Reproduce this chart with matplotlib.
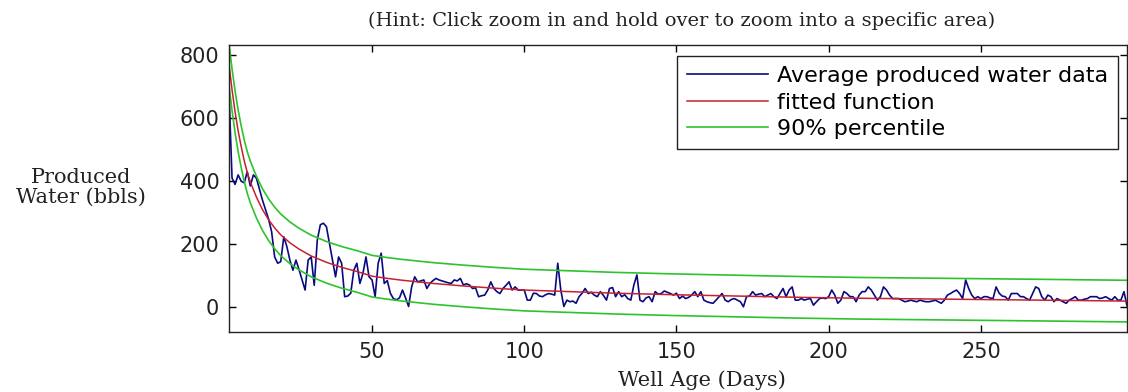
import numpy as np
import matplotlib
matplotlib.use('Agg')
from matplotlib import pyplot as plt

# daily averaged produced water, days 3..298 (bbls)
FIRST_DAY = 3
water = [
    680, 410, 390, 420, 400, 395, 430,
    385, 420, 410, 375, 340, 310, 280, 240, 160, 140,
    145, 224, 193, 150, 118, 150, 120, 87, 55, 150,
    160, 70, 213, 262, 267, 256, 203, 150, 97, 160,
    140, 34, 36, 45, 118, 140, 76, 108, 160, 97,
    87, 34, 140, 172, 76, 85, 45, 28, 24, 30,
    55, 30, 3, 65, 97, 81, 84, 87, 60, 76,
    85, 92, 87, 84, 81, 78, 76, 87, 84, 92,
    71, 75, 71, 60, 62, 34, 37, 39, 55, 81,
    60, 50, 44, 60, 70, 81, 55, 65, 55, 55,
    55, 23, 23, 45, 44, 36, 34, 40, 44, 42,
    39, 140, 55, 3, 23, 18, 20, 13, 34, 45,
    60, 44, 48, 39, 34, 50, 38, 23, 60, 63,
    34, 50, 34, 40, 28, 23, 71, 103, 23, 18,
    30, 34, 18, 50, 42, 44, 52, 48, 44, 39,
    45, 28, 36, 28, 32, 39, 50, 34, 50, 23,
    18, 15, 13, 23, 34, 44, 23, 18, 25, 28,
    23, 18, 2, 34, 36, 50, 39, 42, 44, 34,
    39, 44, 34, 28, 44, 60, 34, 55, 65, 23,
    23, 28, 23, 26, 28, 7, 18, 28, 30, 28,
    34, 55, 39, 13, 23, 50, 44, 34, 34, 18,
    39, 50, 50, 65, 55, 39, 23, 34, 65, 55,
    39, 28, 28, 28, 23, 18, 20, 23, 20, 18,
    23, 20, 18, 18, 20, 23, 18, 13, 23, 39,
    44, 50, 55, 44, 28, 87, 60, 39, 28, 34,
    28, 34, 34, 30, 28, 65, 45, 36, 34, 23,
    44, 44, 44, 34, 34, 28, 23, 44, 65, 60,
    34, 23, 39, 34, 18, 28, 23, 18, 13, 23,
    28, 34, 23, 23, 26, 28, 34, 34, 34, 28,
    30, 34, 28, 23, 34, 23, 23, 50, 5,
]

# fitted decline curve and its 90% band
fit_days = [3, 4, 5, 6, 7, 8, 9, 10, 12, 14, 16, 18, 20, 23, 26, 30, 35, 40,
            45, 50, 55, 60, 70, 80, 90, 100, 115, 130, 150, 170, 190, 210,
            230, 250, 270, 298]
fit_vals = [770, 690, 620, 560, 510, 465, 428, 398, 350, 310, 278, 252, 230,
            205, 185, 163, 143, 127, 114, 99, 92, 86, 76, 68, 61, 55, 50, 45,
            40, 36, 32, 29, 27, 25, 23, 20]
upper_vals = [836, 756, 686, 626, 576, 531, 494, 464, 416, 376, 344, 318, 296,
              271, 251, 229, 209, 193, 180, 165, 158, 152, 142, 134, 127, 121,
              116, 111, 106, 102, 98, 95, 93, 91, 89, 86]
lower_vals = [704, 624, 554, 494, 444, 399, 362, 332, 284, 244, 212, 186, 164,
              139, 119, 97, 77, 61, 48, 33, 26, 20, 10, 2, -5, -11, -16, -21,
              -26, -30, -34, -37, -39, -41, -43, -46]

x_ticks = [50, 100, 150, 200, 250]
y_ticks = [0, 200, 400, 600, 800]

days = np.arange(FIRST_DAY, FIRST_DAY + len(water))

fig = plt.figure(figsize=(11.28, 3.92), dpi=100)
ax = fig.add_axes([229 / 1128, 60 / 392, 898 / 1128, 287 / 392])

ax.plot(days, water, color='#0a0a80', lw=1.2, label='Average produced water data')
ax.plot(fit_days, fit_vals, color='#c82030', lw=1.1, label='fitted function')
ax.plot(fit_days, upper_vals, color='#2cc42c', lw=1.2, label='90% percentile')
ax.plot(fit_days, lower_vals, color='#2cc42c', lw=1.2)

ax.set_xlim(3, 298)
ax.set_ylim(-78, 832)
ax.set_xticks(x_ticks)
ax.set_yticks(y_ticks)
ax.tick_params(direction='in', length=5, width=1, top=True, right=True,
               labelsize=15, labelcolor='#222222', pad=7)
for sp in ax.spines.values():
    sp.set_linewidth(1.0)
    sp.set_color('#222222')

leg = ax.legend(loc='upper right', bbox_to_anchor=(0.990, 0.962),
                borderaxespad=0, fancybox=False, fontsize=16,
                handlelength=3.65, handletextpad=0.4, borderpad=0.45,
                labelspacing=0.3, framealpha=1)
leg.get_frame().set_edgecolor('#222222')
leg.get_frame().set_linewidth(1.0)

serif = 'DejaVu Serif'
fig.text(682, 392 - 21, '(Hint: Click zoom in and hold over to zoom into a specific area)',
         transform=None, ha='center', va='center', family=serif, fontsize=14,
         color='#222222')
fig.text(702, 392 - 380, 'Well Age (Days)', transform=None, ha='center',
         va='center', family=serif, fontsize=15, color='#222222')
fig.text(81, 392 - 187, 'Produced\nWater (bbls)', transform=None, ha='center',
         va='center', family=serif, fontsize=15, color='#222222',
         multialignment='center', linespacing=1.05)

fig.savefig('out.png', dpi=100)
